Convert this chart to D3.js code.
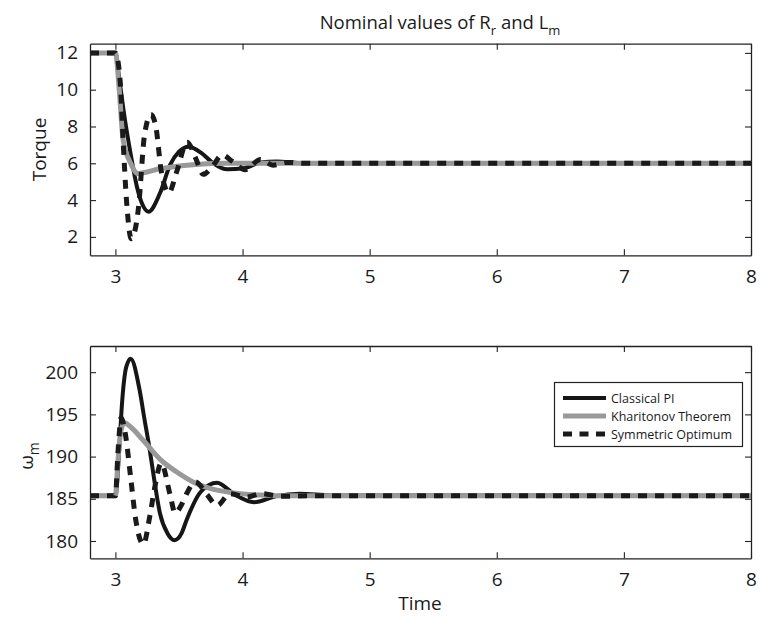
<!DOCTYPE html>
<html>
<head>
<meta charset="utf-8">
<script src="https://cdn.jsdelivr.net/npm/d3@7/dist/d3.min.js"></script>
<style>
  html, body { margin: 0; padding: 0; background: #fff; }
  svg { display: block; }
  text { font-family: "Open Sans", "Noto Sans", sans-serif; fill: #1a1a1a; }
</style>
</head>
<body>
<svg id="chart" width="761" height="617"></svg>
<script>
// ---------------- data ----------------
const xTicks = [3, 4, 5, 6, 7, 8];
const torqueTicks = [2, 4, 6, 8, 10, 12];
const speedTicks = [180, 185, 190, 195, 200];
const seriesNames = ["Classical PI", "Kharitonov Theorem", "Symmetric Optimum"];

// Torque - Classical PI
const timeTorquePI = [2.8, 3.0, 3.03, 3.07, 3.12, 3.17, 3.21, 3.26, 3.35, 3.43, 3.50, 3.575, 3.68, 3.77, 3.88, 4.01, 4.14, 4.27, 4.45, 4.7, 8];
const torquePI     = [12, 12, 10.6, 8.6, 6.5, 4.7, 3.8, 3.37, 4.37, 5.91, 6.63, 6.9, 6.54, 6.0, 5.67, 5.73, 6.04, 6.1, 6.02, 6.0, 6.0];
// Torque - Kharitonov Theorem
const timeTorqueKT = [2.8, 3.0, 3.03, 3.06, 3.12, 3.175, 3.35, 3.61, 3.88, 4.2, 8];
const torqueKT     = [12, 12, 10.0, 7.3, 6.0, 5.45, 5.7, 5.92, 6.0, 6.0, 6.0];
// Torque - Symmetric Optimum
const timeTorqueSO = [2.8, 3.0, 3.037, 3.06, 3.087, 3.125, 3.18, 3.23, 3.28, 3.32, 3.36, 3.42, 3.48, 3.565, 3.63, 3.69, 3.76, 3.84, 3.92, 4.02, 4.14, 4.24, 4.35, 4.5, 8];
const torqueSO     = [12, 12, 10.5, 7.3, 4.0, 1.9, 3.5, 7.6, 8.65, 7.9, 5.6, 4.4, 5.5, 7.15, 6.3, 5.4, 5.8, 6.45, 6.1, 5.65, 6.2, 5.9, 6.05, 6.0, 6.0];

// Speed - Classical PI
const timeSpeedPI = [2.8, 3.0, 3.03, 3.05, 3.085, 3.12, 3.19, 3.23, 3.27, 3.31, 3.35, 3.41, 3.465, 3.52, 3.56, 3.67, 3.80, 3.93, 4.09, 4.26, 4.45, 4.7, 8];
const speedPI     = [185.35, 185.35, 190.8, 195.9, 200.6, 201.6, 197.9, 194.3, 190.8, 186.8, 183.3, 180.9, 180.1, 180.9, 182.5, 185.8, 186.9, 185.6, 184.6, 185.3, 185.6, 185.4, 185.35];
// Speed - Kharitonov Theorem
const timeSpeedKT = [2.8, 3.0, 3.02, 3.04, 3.07, 3.12, 3.22, 3.35, 3.48, 3.61, 3.75, 3.93, 4.14, 4.4, 8];
const speedKT     = [185.35, 185.35, 189.5, 192.8, 194.0, 193.5, 191.9, 189.7, 188.2, 187.0, 186.2, 185.7, 185.45, 185.35, 185.35];
// Speed - Symmetric Optimum
const timeSpeedSO = [2.8, 3.0, 3.02, 3.045, 3.08, 3.12, 3.16, 3.22, 3.27, 3.31, 3.36, 3.43, 3.47, 3.52, 3.56, 3.63, 3.72, 3.80, 3.90, 4.03, 4.15, 4.3, 4.5, 8];
const speedSO     = [185.35, 185.35, 190.5, 194.6, 192.5, 187.5, 182.5, 179.6, 182.9, 186.4, 189.2, 185.5, 183.3, 184.3, 185.6, 187.0, 185.5, 184.2, 185.6, 185.2, 185.6, 185.3, 185.35, 185.35];

// ---------------- layout ----------------
const svg = d3.select("#chart");
const left = 90, right = 751;
const panels = [
  { top: 43.7, bottom: 255.3, domain: [1, 12.5], ticks: torqueTicks, id: "t",
    series: [[timeTorquePI, torquePI], [timeTorqueKT, torqueKT], [timeTorqueSO, torqueSO]] },
  { top: 346, bottom: 558.3, domain: [177.95, 203.1], ticks: speedTicks, id: "s",
    series: [[timeSpeedPI, speedPI], [timeSpeedKT, speedKT], [timeSpeedSO, speedSO]] }
];

const x = d3.scaleLinear().domain([2.8, 8]).range([left, right]);
const styles = [
  { color: "#161616", width: 4, dash: null },
  { color: "#999999", width: 5, dash: null },
  { color: "#1a1a1a", width: 5, dash: "9,8" }
];

panels.forEach(p => {
  const y = d3.scaleLinear().domain(p.domain).range([p.bottom, p.top]);
  const g = svg.append("g");

  svg.append("clipPath").attr("id", "clip-" + p.id)
    .append("rect").attr("x", left).attr("y", p.top)
    .attr("width", right - left).attr("height", p.bottom - p.top);

  const line = d3.line().x(d => x(d[0])).y(d => y(d[1])).curve(d3.curveMonotoneX);
  const lines = g.append("g").attr("clip-path", "url(#clip-" + p.id + ")");
  p.series.forEach((s, i) => {
    const pts = s[0].map((t, k) => [t, s[1][k]]);
    const path = lines.append("path").datum(pts)
      .attr("d", line)
      .attr("fill", "none")
      .attr("stroke", styles[i].color)
      .attr("stroke-width", styles[i].width)
      .attr("stroke-linejoin", "round");
    if (styles[i].dash) path.attr("stroke-dasharray", styles[i].dash);
  });

  // axes
  const axB = g.append("g").attr("transform", `translate(0,${p.bottom})`)
    .call(d3.axisBottom(x).tickValues(xTicks).tickSizeInner(-6).tickSizeOuter(0).tickPadding(14).tickFormat(d3.format("d")));
  const axT = g.append("g").attr("transform", `translate(0,${p.top})`)
    .call(d3.axisTop(x).tickValues(xTicks).tickSizeInner(-6).tickSizeOuter(0).tickFormat(""));
  const axL = g.append("g").attr("transform", `translate(${left},0)`)
    .call(d3.axisLeft(y).tickValues(p.ticks).tickSizeInner(-6).tickSizeOuter(0).tickPadding(12).tickFormat(d3.format("d")));
  const axR = g.append("g").attr("transform", `translate(${right},0)`)
    .call(d3.axisRight(y).tickValues(p.ticks).tickSizeInner(-6).tickSizeOuter(0).tickFormat(""));
  [axB, axT, axL, axR].forEach(a => {
    a.selectAll("path.domain").attr("stroke", "#222").attr("stroke-width", 1.3);
    a.selectAll(".tick line").attr("stroke", "#222").attr("stroke-width", 1.1);
    a.selectAll(".tick text").style("font-family", "'Open Sans', sans-serif").style("font-size", "19px").attr("fill", "#1a1a1a");
  });
});

// title
const title = svg.append("text").attr("x", 440).attr("y", 29).attr("text-anchor", "middle")
  .style("font-size", "18.5px");
title.append("tspan").text("Nominal values of R");
title.append("tspan").attr("dy", 6).style("font-size", "13px").text("r");
title.append("tspan").attr("dy", -6).text(" and L");
title.append("tspan").attr("dy", 6).style("font-size", "13px").text("m");

// y labels
svg.append("text").attr("transform", "translate(46,149.5) rotate(-90)").attr("text-anchor", "middle")
  .style("font-size", "19px").text("Torque");
const wl = svg.append("text").attr("transform", "translate(33,456) rotate(-90)").attr("text-anchor", "middle")
  .style("font-size", "19px");
wl.append("tspan").text("ω");
wl.append("tspan").attr("dy", 6).style("font-size", "14px").text("m");

// x label
svg.append("text").attr("x", 420).attr("y", 610).attr("text-anchor", "middle")
  .style("font-size", "19px").text("Time");

// legend
const lg = svg.append("g");
lg.append("rect").attr("x", 554.5).attr("y", 382.5).attr("width", 188).attr("height", 64)
  .attr("fill", "#fff").attr("stroke", "#222").attr("stroke-width", 1.2);
const rowY = [398, 416, 434];
seriesNames.forEach((name, i) => {
  const ln = lg.append("line").attr("x1", 563).attr("x2", 606).attr("y1", rowY[i]).attr("y2", rowY[i])
    .attr("stroke", styles[i].color).attr("stroke-width", styles[i].width);
  if (styles[i].dash) ln.attr("stroke-dasharray", "9,7.5");
  lg.append("text").attr("x", 611).attr("y", rowY[i] + 4.5).style("font-size", "12.5px").text(name);
});
</script>
</body>
</html>
